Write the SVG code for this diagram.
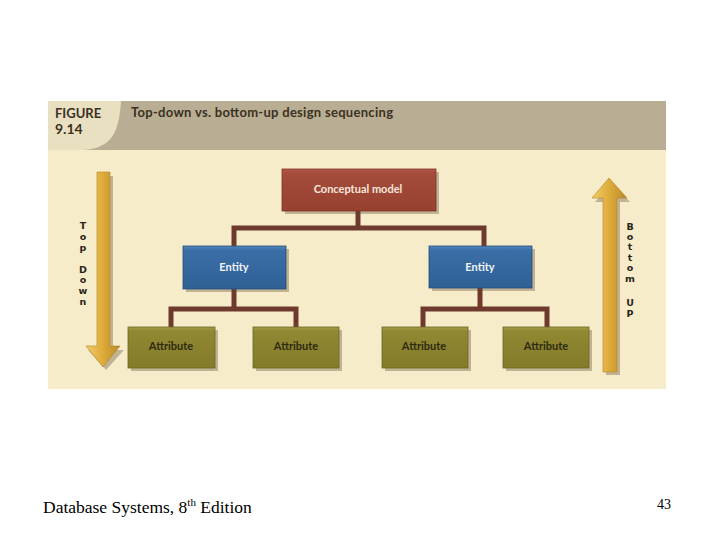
<svg xmlns="http://www.w3.org/2000/svg" width="720" height="540" viewBox="0 0 720 540">
<defs>
<style>
.hdr{font-family:Lato,"Open Sans",sans-serif;font-weight:bold;fill:#3b3122}
.lbl{font-family:Lato,"Open Sans",sans-serif;font-weight:bold;font-size:11px;text-anchor:middle}
.side{font-family:"DejaVu Sans",sans-serif;font-weight:bold;font-size:9.5px;fill:#2a2418;text-anchor:middle}
.conn{fill:none;stroke:#6f3a2e;stroke-width:5}
.shadow{fill:#5a4a30;opacity:0.35}
.foot{font-family:"Liberation Serif",serif;fill:#000}
</style>
<linearGradient id="gRed" x1="0" y1="0" x2="0" y2="1">
<stop offset="0" stop-color="#b3584a"/><stop offset="0.1" stop-color="#a54c3d"/><stop offset="1" stop-color="#97412f"/>
</linearGradient>
<linearGradient id="gBlue" x1="0" y1="0" x2="0" y2="1">
<stop offset="0" stop-color="#5287bb"/><stop offset="0.1" stop-color="#3a6ea6"/><stop offset="1" stop-color="#2f6196"/>
</linearGradient>
<linearGradient id="gOlive" x1="0" y1="0" x2="0" y2="1">
<stop offset="0" stop-color="#a59c4a"/><stop offset="0.1" stop-color="#918833"/><stop offset="1" stop-color="#847b2a"/>
</linearGradient>
<linearGradient id="gGold" x1="0" y1="0" x2="1" y2="0">
<stop offset="0" stop-color="#f2cf6a"/><stop offset="0.45" stop-color="#e0ae3c"/><stop offset="1" stop-color="#b9892a"/>
</linearGradient>
</defs>

<!-- panel -->
<rect x="48" y="101" width="618" height="288" fill="#f6ecca"/>
<rect x="48" y="101" width="618" height="49" fill="#b9ae93"/>
<path d="M48,101 H121 C119,132 112,148 84,150 H48 Z" fill="#e9dfc1"/>
<text class="hdr" x="55" y="118" font-size="13">FIGURE</text>
<text class="hdr" x="55" y="134" font-size="14">9.14</text>
<text class="hdr" x="131" y="117" font-size="13" textLength="262">Top-down vs. bottom-up design sequencing</text>

<!-- connectors -->
<g id="connectors">
<path class="conn" d="M358,211 V228 M234,246 V228 H484 V246"/>
<path class="conn" d="M234,289 V309 M171,327 V309 H296 V327"/>
<path class="conn" d="M480,288 V309 M423,327 V309 H547 V327"/>
</g>

<!-- arrows -->
<g id="arrow-down">
<path d="M99,176 H113 V350 H124 L106,370 L88,350 H99 Z" class="shadow"/>
<path d="M97,172 H110 V346 H120 L103,367 L86,346 H97 Z" fill="url(#gGold)" stroke="#b58525" stroke-width="0.6"/>
<text class="side" x="83" y="229">T</text>
<text class="side" x="83" y="240">o</text>
<text class="side" x="83" y="251">p</text>
<text class="side" x="83" y="273">D</text>
<text class="side" x="83" y="283">o</text>
<text class="side" x="83" y="294">w</text>
<text class="side" x="83" y="305">n</text>
</g>
<g id="arrow-up">
<path d="M606,202 H595 L612,182 L630,202 H620 V375 H606 Z" class="shadow"/>
<path d="M603,198 H592 L609,178 L627,198 H617 V372 H603 Z" fill="url(#gGold)" stroke="#b58525" stroke-width="0.6"/>
<text class="side" x="630" y="230">B</text>
<text class="side" x="630" y="240">o</text>
<text class="side" x="630" y="250">t</text>
<text class="side" x="630" y="261">t</text>
<text class="side" x="630" y="271">o</text>
<text class="side" x="630" y="282">m</text>
<text class="side" x="630" y="306">U</text>
<text class="side" x="630" y="317">P</text>
</g>

<!-- nodes -->
<g id="conceptual-model">
<rect x="285" y="172" width="154" height="42" class="shadow"/>
<rect x="282" y="169" width="154" height="42" fill="url(#gRed)" stroke="#7d3426" stroke-width="0.8"/>
<text class="lbl" x="358" y="193" fill="#f6e6dc">Conceptual model</text>
</g>
<g id="entity-left">
<rect x="186" y="249" width="103" height="43" class="shadow"/>
<rect x="183" y="246" width="103" height="43" fill="url(#gBlue)" stroke="#244d7a" stroke-width="0.8"/>
<text class="lbl" x="234" y="271" fill="#f2f4f8">Entity</text>
</g>
<g id="entity-right">
<rect x="432" y="249" width="103" height="42" class="shadow"/>
<rect x="429" y="246" width="103" height="42" fill="url(#gBlue)" stroke="#244d7a" stroke-width="0.8"/>
<text class="lbl" x="480" y="271" fill="#f2f4f8">Entity</text>
</g>
<g id="attribute-1">
<rect x="131" y="330" width="87" height="41" class="shadow"/>
<rect x="128" y="327" width="87" height="41" fill="url(#gOlive)" stroke="#6b6420" stroke-width="0.8"/>
<text class="lbl" x="171" y="350" fill="#2e2b12">Attribute</text>
</g>
<g id="attribute-2">
<rect x="256" y="330" width="86" height="41" class="shadow"/>
<rect x="253" y="327" width="86" height="41" fill="url(#gOlive)" stroke="#6b6420" stroke-width="0.8"/>
<text class="lbl" x="296" y="350" fill="#2e2b12">Attribute</text>
</g>
<g id="attribute-3">
<rect x="385" y="330" width="86" height="41" class="shadow"/>
<rect x="382" y="327" width="86" height="41" fill="url(#gOlive)" stroke="#6b6420" stroke-width="0.8"/>
<text class="lbl" x="424" y="350" fill="#2e2b12">Attribute</text>
</g>
<g id="attribute-4">
<rect x="506" y="330" width="86" height="41" class="shadow"/>
<rect x="503" y="327" width="86" height="41" fill="url(#gOlive)" stroke="#6b6420" stroke-width="0.8"/>
<text class="lbl" x="546" y="350" fill="#2e2b12">Attribute</text>
</g>

<!-- footer -->
<text class="foot" x="43" y="513" font-size="17.5">Database Systems, 8<tspan font-size="11" dy="-7">th</tspan><tspan dy="7"> Edition</tspan></text>
<text class="foot" x="657" y="509" font-size="14">43</text>
</svg>
